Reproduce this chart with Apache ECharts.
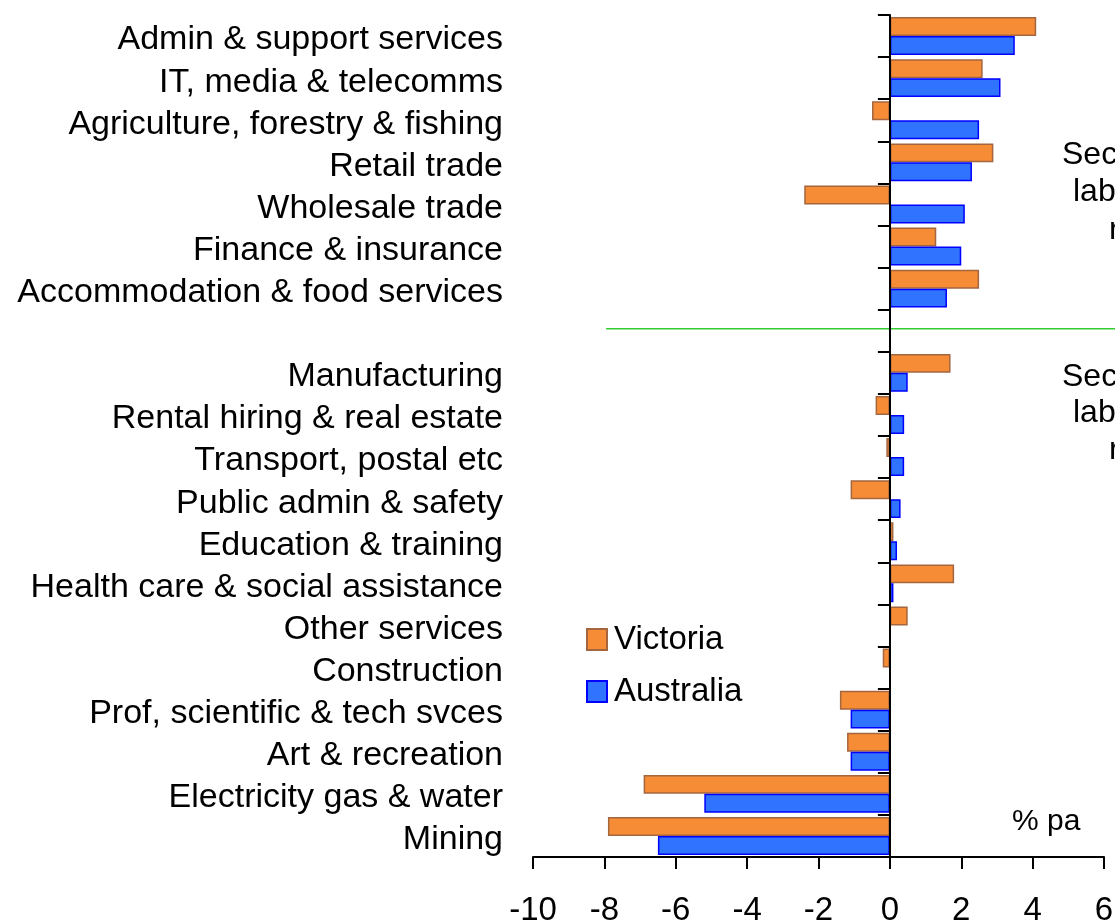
<!DOCTYPE html>
<html>
<head>
<meta charset="utf-8">
<script src="https://cdn.jsdelivr.net/npm/echarts@6/dist/echarts.min.js"></script>
<style>
  html, body { margin: 0; padding: 0; background: #fff; }
  #chart { width: 1115px; height: 920px; }
</style>
</head>
<body>
<div id="chart"></div>
<script>
// categories top to bottom, '' is the gap row between the two groups
const categories = [
    "Admin & support services", "IT, media & telecomms", "Agriculture, forestry & fishing",
    "Retail trade", "Wholesale trade", "Finance & insurance", "Accommodation & food services",
    "",
    "Manufacturing", "Rental hiring & real estate", "Transport, postal etc", "Public admin & safety",
    "Education & training", "Health care & social assistance", "Other services", "Construction",
    "Prof, scientific & tech svces", "Art & recreation", "Electricity gas & water", "Mining"
];
const victoria = [4.1, 2.6, -0.5, 2.9, -2.4, 1.3, 2.5, null, 1.7, -0.4, -0.1, -1.1, 0.1, 1.8, 0.5, -0.2, -1.4, -1.2, -6.9, -7.9];
const australia = [3.5, 3.1, 2.5, 2.3, 2.1, 2.0, 1.6, null, 0.5, 0.4, 0.4, 0.3, 0.2, 0.1, 0, 0, -1.1, -1.1, -5.2, -6.5];
const seriesNames = ["Victoria", "Australia"];
const xTicks = { min: -10, max: 6, step: 2 };
const dividerStart = -7.95;
const noteTop = ["Sectors where", "labour hours", "rose faster"];
const noteBottom = ["Sectors where", "labour hours", "rose slower"];
const unitLabel = "% pa";

const font = '"Liberation Sans", Arial, sans-serif';
const chart = echarts.init(document.getElementById("chart"));

const option = {
    animation: false,
    backgroundColor: "#fff",
    grid: { left: 533, right: 11, top: 15, bottom: 63, outerBoundsMode: "none", containLabel: false },
    legend: {
        orient: "vertical",
        left: 581, top: 618,
        itemWidth: 20, itemHeight: 21, itemGap: 19,
        icon: "rect",
        data: seriesNames,
        textStyle: { fontFamily: font, fontSize: 33, color: "#000", padding: [0, 0, 0, 2] }
    },
    xAxis: {
        type: "value",
        min: xTicks.min, max: xTicks.max, interval: xTicks.step,
        axisLine: { show: true, onZero: false, lineStyle: { color: "#000", width: 2 } },
        axisTick: { show: true, length: 12, lineStyle: { color: "#000", width: 2 } },
        splitLine: { show: false },
        axisLabel: { fontFamily: font, fontSize: 33, color: "#000", margin: 37 }
    },
    yAxis: [{
        type: "category",
        inverse: true,
        data: categories,
        z: 10,
        axisLine: { show: true, onZero: true, lineStyle: { color: "#000", width: 2 } },
        axisTick: { show: true, length: 12, lineStyle: { color: "#000", width: 2 } },
        axisLabel: { show: false }
    }, {
        type: "category",
        inverse: true,
        data: categories,
        position: "left",
        axisLine: { show: false, onZero: false },
        axisTick: { show: false },
        // nudge labels a few px lower so they sit on the band centre like the original
        axisLabel: {
            interval: 0, fontFamily: font, fontSize: 34, color: "#000", margin: 30,
            verticalAlign: "top", lineHeight: 8
        }
    }],
    series: [{
        name: seriesNames[0],
        type: "bar",
        data: victoria,
        barGap: "0%",
        barCategoryGap: "10%",
        itemStyle: { color: "#F68C36", borderColor: "#A4663F", borderWidth: 1.5 }
    }, {
        name: seriesNames[1],
        type: "bar",
        data: australia,
        barGap: "0%",
        barCategoryGap: "10%",
        itemStyle: { color: "#2F73FF", borderColor: "#0000FF", borderWidth: 1.5 }
    }]
};
chart.setOption(option);

// divider line across the gap row, from -8 out to the right edge
const gapIndex = categories.indexOf("");
const p0 = chart.convertToPixel({ xAxisIndex: 0, yAxisIndex: 0 }, [dividerStart, gapIndex]);

function noteLines(lines, xs, ys) {
    return lines.map((t, i) => ({
        type: "text",
        style: { text: t, x: xs[i], y: ys[i], font: "32px " + font, fill: "#000", verticalAlign: "middle" }
    }));
}

chart.setOption({
    graphic: [
        {
            type: "line",
            shape: { x1: p0[0], y1: p0[1] - 2, x2: chart.getWidth(), y2: p0[1] - 2 },
            style: { stroke: "#33CC33", lineWidth: 1.5 }
        },
        ...noteLines(noteTop, [1062, 1073, 1109], [155, 192, 230]),
        ...noteLines(noteBottom, [1062, 1073, 1109], [377, 413, 450]),
        {
            type: "text",
            style: { text: unitLabel, x: 1012, y: 822, font: "30px " + font, fill: "#000", verticalAlign: "middle" }
        }
    ]
});
</script>
</body>
</html>
